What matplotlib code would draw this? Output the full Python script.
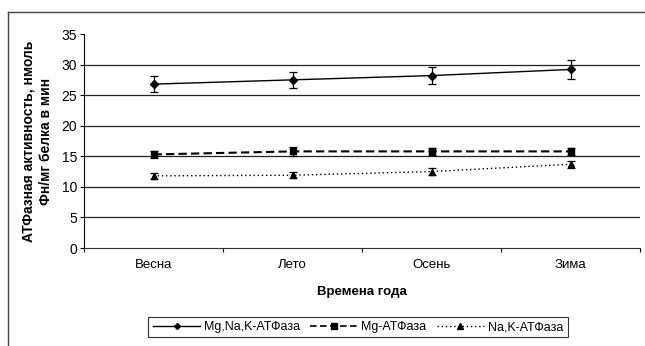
import matplotlib.pyplot as plt
from matplotlib.lines import Line2D
import numpy as np

plt.rcParams['font.family'] = ['Liberation Sans', 'DejaVu Sans']

seasons = ['Весна', 'Лето', 'Осень', 'Зима']

mg_na_k = [26.8, 27.5, 28.2, 29.2]
mg_na_k_err = [1.3, 1.3, 1.4, 1.5]

mg = [15.3, 15.8, 15.8, 15.8]
mg_err = [0.6, 0.7, 0.6, 0.6]

na_k = [11.8, 11.9, 12.5, 13.7]
na_k_err = [0.5, 0.5, 0.6, 0.6]

yticks = [0, 5, 10, 15, 20, 25, 30, 35]

fig = plt.figure(figsize=(6.45, 3.46), dpi=100)
ax = fig.add_axes([84 / 645, 1 - 248 / 346, 556 / 645, 214 / 346])

# frame around the whole chart (only left and top edges are visible)
fig.add_artist(Line2D([8 / 645, 8 / 645], [0, 1 - 12 / 346], color='#444444', lw=1))
fig.add_artist(Line2D([8 / 645, 1], [1 - 12 / 346, 1 - 12 / 346], color='#444444', lw=1))

x = np.arange(len(seasons)) + 0.5

for yv in yticks[1:-1]:
    ax.axhline(yv, color='#222222', lw=0.9, zorder=0)

series = [
    (mg_na_k, mg_na_k_err, '-', 1.0, 'D', 4, 'Mg,Na,K-АТФаза'),
    (mg, mg_err, (0, (4, 2)), 1.5, 's', 5, 'Mg-АТФаза'),
    (na_k, na_k_err, (0, (1, 2)), 1.0, '^', 5, 'Na,K-АТФаза'),
]

handles = []
for vals, errs, ls, lw, mk, ms, name in series:
    ax.errorbar(x, vals, yerr=errs, color='black', lw=lw, ls=ls,
                marker=mk, ms=ms, capsize=3, elinewidth=0.9, capthick=0.9)
    handles.append(Line2D([], [], color='black', lw=1 if lw < 1.2 else 1.2,
                          ls=ls, marker=mk, ms=ms - 1, label=name))

ax.set_xlim(0, 4)
ax.set_ylim(0, 35)
ax.set_yticks(yticks)
ax.set_xticks([0, 1, 2, 3, 4])
ax.set_xticklabels([])
ax.set_xticks(x, minor=True)
ax.set_xticklabels(seasons, minor=True, fontsize=9.5)
ax.tick_params(axis='x', which='minor', length=0, pad=8)
ax.tick_params(axis='x', which='major', length=3, direction='out')
ax.tick_params(axis='y', length=3, direction='out', labelsize=10, pad=2)

for side in ['top', 'right']:
    ax.spines[side].set_visible(False)
ax.spines['left'].set_color('black')
ax.spines['bottom'].set_color('#333333')

ax.set_ylabel('АТФазная активность, нмоль\nФн/мг белка в мин',
              fontsize=10, fontweight='bold', labelpad=6, linespacing=1.3)
ax.set_xlabel('Времена года', fontsize=9.5, fontweight='bold', labelpad=11)

leg = fig.legend(handles=handles, loc='center',
                 bbox_to_anchor=(358 / 645, 1 - 327 / 346),
                 ncol=3, fontsize=9, frameon=True, fancybox=False,
                 handlelength=3.8, handletextpad=0.3, columnspacing=0.8,
                 borderpad=0.35, borderaxespad=0)
leg.get_frame().set_edgecolor('black')
leg.get_frame().set_linewidth(0.8)

fig.savefig('out.png', dpi=100)
